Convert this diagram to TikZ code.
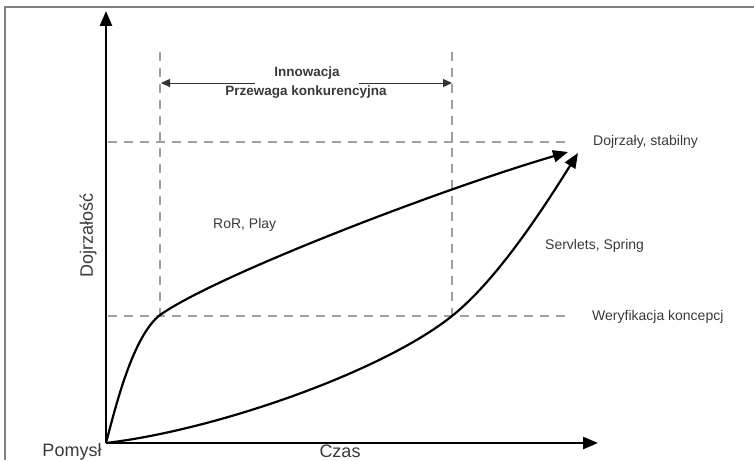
\documentclass[tikz,border=0pt]{standalone}
\usepackage{fontspec}
\setmainfont{Liberation Sans}
\usetikzlibrary{arrows.meta}
\definecolor{txt}{HTML}{3A3A3A}
\definecolor{dsh}{HTML}{A0A0A0}
\definecolor{frm}{HTML}{808080}
\tikzset{
  axis/.style={line width=2.6pt, -{Triangle[length=15pt,width=12pt]}},
  curve/.style={line width=2.2pt, -{Triangle[length=15pt,width=12pt]}},
  guide/.style={dsh, line width=1.4pt, dash pattern=on 9pt off 7pt},
  lbl/.style={text=txt, inner sep=0pt, font=\fontsize{14}{16}\selectfont},
  axlbl/.style={text=txt, inner sep=0pt, font=\fontsize{18}{20}\selectfont},
  inno/.style={text=txt, inner sep=0pt, font=\fontsize{13.5}{15}\selectfont\bfseries},
  span/.style={black!80, line width=1pt, -{Triangle[length=9pt,width=8pt]}}
}
\begin{document}
\begin{tikzpicture}[x=1pt,y=-1pt]
\useasboundingbox (0,0) rectangle (754,460);
% frame
\draw[frm, line width=1.5pt] (5,460) -- (5,7) -- (754,7);
% coordinates
\coordinate (O) at (106,443);
\coordinate (ytip) at (106,11);
\coordinate (xtip) at (598,443);
\coordinate (v1t) at (160,52);
\coordinate (v1b) at (160,315);
\coordinate (v2t) at (452,52);
\coordinate (v2b) at (452,316);
\coordinate (h1l) at (108,142);
\coordinate (h1r) at (566,142);
\coordinate (h2l) at (108,316);
\coordinate (h2r) at (566,316);
\coordinate (a1s) at (255,83);
\coordinate (a1e) at (161,83);
\coordinate (a2s) at (359,83);
\coordinate (a2e) at (452,83);
\coordinate (up1) at (160,315);
\coordinate (upE) at (568,152);
\coordinate (lo1) at (452,316);
\coordinate (loE) at (578,153);
% guides
\draw[guide] (v1t) -- (v1b);
\draw[guide] (v2t) -- (v2b);
\draw[guide] (h1l) -- (h1r);
\draw[guide] (h2l) -- (h2r);
% span arrow
\draw[span] (a1s) -- (a1e);
\draw[span] (a2s) -- (a2e);
\node[inno] (innow) at (307,73) {Innowacja};
\node[inno] (przew) at (306,92) {Przewaga konkurencyjna};
% curves
\draw[curve] (O) .. controls (116,405) and (133,336) .. (up1)
  .. controls (215,276) and (438,190) .. (upE);
\draw[curve] (O) .. controls (216,430) and (382,372) .. (lo1)
  .. controls (497,280) and (543,209) .. (loE);
% axes
\draw[axis] (O) -- (ytip);
\draw[axis] (O) -- (xtip);
% labels
\node[lbl, anchor=west] (mature) at (593,142) {Dojrzały, stabilny};
\node[lbl, anchor=west] (verif) at (592,317) {Weryfikacja koncepcj};
\node[lbl, anchor=west] (serv) at (545,246) {Servlets, Spring};
\node[lbl, anchor=west] (ror) at (213,225) {RoR, Play};
\node[axlbl, rotate=90] (dojr) at (88,235) {Dojrzałość};
\node[axlbl] (pom) at (72,452) {Pomysł};
\node[axlbl, anchor=base] (czas) at (340,457) {Czas};
\end{tikzpicture}
\end{document}
